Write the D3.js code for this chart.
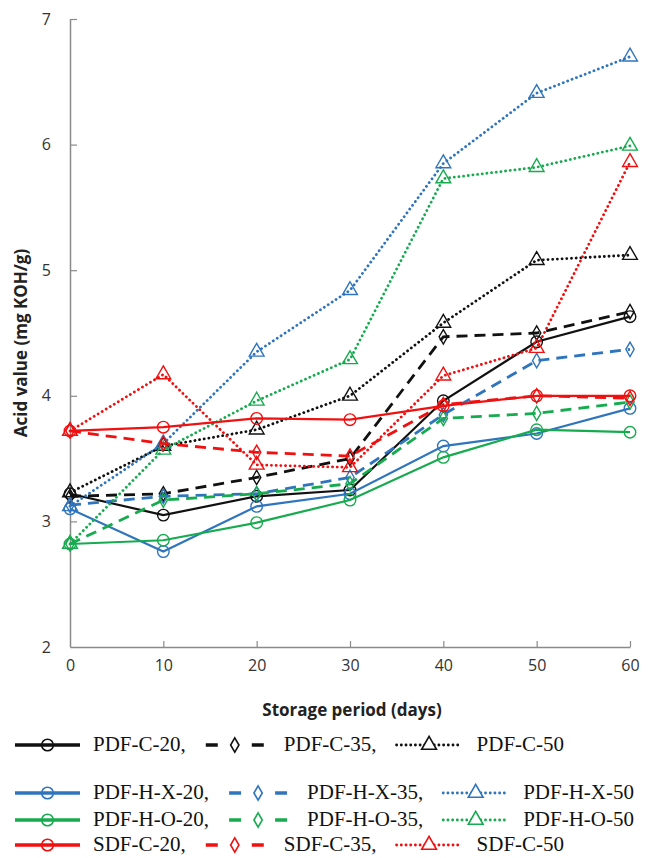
<!DOCTYPE html>
<html>
<head>
<meta charset="utf-8">
<script src="https://cdn.jsdelivr.net/npm/d3@7"></script>
<style>
  body { margin: 0; background: #fff; }
  svg { display: block; }
</style>
</head>
<body>
<script>
const width = 658;
const height = 858;

// storage days
const days = [0, 10, 20, 30, 40, 50, 60];
const yTicks = [2, 3, 4, 5, 6, 7];

// acid values
const pdfC20 = [3.22, 3.05, 3.20, 3.25, 3.96, 4.43, 4.63];
const pdfC35 = [3.20, 3.22, 3.35, 3.50, 4.47, 4.50, 4.67];
const pdfC50 = [3.23, 3.60, 3.73, 4.00, 4.58, 5.08, 5.12];
const pdfHX20 = [3.10, 2.76, 3.12, 3.22, 3.60, 3.70, 3.90];
const pdfHX35 = [3.13, 3.20, 3.22, 3.35, 3.85, 4.28, 4.37];
const pdfHX50 = [3.12, 3.62, 4.35, 4.84, 5.85, 6.41, 6.70];
const pdfHO20 = [2.82, 2.85, 2.99, 3.17, 3.51, 3.73, 3.71];
const pdfHO35 = [2.82, 3.17, 3.22, 3.30, 3.82, 3.86, 3.95];
const pdfHO50 = [2.82, 3.57, 3.96, 4.29, 5.73, 5.82, 5.99];
const sdfC20 = [3.72, 3.75, 3.82, 3.81, 3.92, 4.00, 4.00];
const sdfC35 = [3.72, 3.62, 3.55, 3.52, 3.93, 4.00, 3.98];
const sdfC50 = [3.72, 4.17, 3.45, 3.43, 4.16, 4.38, 5.86];

const colors = { C: "#111111", HX: "#2f75bd", HO: "#16ab4f", S: "#f01010" };

const series = [
    { name: "PDF-C-20", values: pdfC20, color: colors.C, type: "solid" },
    { name: "PDF-C-35", values: pdfC35, color: colors.C, type: "dash" },
    { name: "PDF-C-50", values: pdfC50, color: colors.C, type: "dot" },
    { name: "PDF-H-X-20", values: pdfHX20, color: colors.HX, type: "solid" },
    { name: "PDF-H-X-35", values: pdfHX35, color: colors.HX, type: "dash" },
    { name: "PDF-H-X-50", values: pdfHX50, color: colors.HX, type: "dot" },
    { name: "PDF-H-O-20", values: pdfHO20, color: colors.HO, type: "solid" },
    { name: "PDF-H-O-35", values: pdfHO35, color: colors.HO, type: "dash" },
    { name: "PDF-H-O-50", values: pdfHO50, color: colors.HO, type: "dot" },
    { name: "SDF-C-20", values: sdfC20, color: colors.S, type: "solid" },
    { name: "SDF-C-35", values: sdfC35, color: colors.S, type: "dash" },
    { name: "SDF-C-50", values: sdfC50, color: colors.S, type: "dot" }
];

const dashes = { solid: null, dash: "11,7", dot: "0.1,4.6" };
const widths = { solid: 2.2, dash: 2.8, dot: 2.8 };
const symbols = {
    solid: d3.symbol(d3.symbolCircle, 105),
    dash: d3.symbol(d3.symbolDiamond, 60),
    dot: d3.symbol(d3.symbolTriangle, 95)
};

const x = d3.scaleLinear().domain([0, 60]).range([70, 630]);
const y = d3.scaleLinear().domain([2, 7]).range([647, 19]);

const svg = d3.select("body")
    .append("svg")
    .attr("width", width)
    .attr("height", height);

// axes
const xAxis = svg.append("g")
    .attr("transform", `translate(0,${y(2)})`)
    .call(d3.axisBottom(x).tickValues(days).tickSizeInner(-6).tickSizeOuter(0).tickPadding(13));

const yAxis = svg.append("g")
    .attr("transform", `translate(${x(0)},0)`)
    .call(d3.axisLeft(y).tickValues(yTicks).tickFormat(d3.format("d")).tickSizeInner(-7).tickSizeOuter(0).tickPadding(19));

[xAxis, yAxis].forEach(function(g) {
    g.select(".domain").attr("stroke", "#8a8a8a").attr("stroke-width", 1.5);
    g.selectAll(".tick line").attr("stroke", "#8a8a8a").attr("stroke-width", 1.2);
    g.selectAll(".tick text")
        .attr("fill", "#333")
        .style("font-family", "'Open Sans', 'Noto Sans', sans-serif")
        .style("font-size", "16px");
});
yAxis.selectAll(".tick").filter(d => d === 2).select("line").remove();
xAxis.selectAll(".tick").filter(d => d === 0).select("line").remove();

// axis titles
svg.append("text")
    .attr("transform", `translate(27,${(y(2) + y(7)) / 2 + 10}) rotate(-90)`)
    .attr("text-anchor", "middle")
    .style("font-family", "'Open Sans', 'Noto Sans', sans-serif")
    .style("font-weight", "bold")
    .style("font-size", "17px")
    .attr("fill", "#222")
    .text("Acid value (mg KOH/g)");

svg.append("text")
    .attr("x", 352)
    .attr("y", 716)
    .attr("text-anchor", "middle")
    .style("font-family", "'Open Sans', 'Noto Sans', sans-serif")
    .style("font-weight", "bold")
    .style("font-size", "17px")
    .attr("fill", "#222")
    .text("Storage period (days)");

// lines and markers
const line = d3.line()
    .x((d, i) => x(days[i]))
    .y(d => y(d));

const plot = svg.append("g");

series.forEach(function(s) {
    plot.append("path")
        .datum(s.values)
        .attr("fill", "none")
        .attr("stroke", s.color)
        .attr("stroke-width", widths[s.type])
        .attr("stroke-dasharray", dashes[s.type])
        .attr("stroke-linecap", s.type === "dot" ? "round" : "butt")
        .attr("d", line);

    plot.append("g")
        .selectAll("path")
        .data(s.values)
        .enter()
        .append("path")
        .attr("transform", (d, i) => `translate(${x(days[i])},${y(d)})`)
        .attr("d", symbols[s.type])
        .attr("fill", "none")
        .attr("stroke", s.color)
        .attr("stroke-width", 1.4);
});

// legend, four rows of three entries, laid out in flow
const rowY = [745, 793, 820, 845];
const legend = svg.append("g");

for (let r = 0; r < 4; r++) {
    let cx = 15;
    for (let c = 0; c < 3; c++) {
        const s = series[r * 3 + c];
        const g = legend.append("g");
        const ly = rowY[r];
        const len = s.type === "dash" ? 58 : 65;
        if (s.type === "dash") {
            g.append("line").attr("x1", cx).attr("x2", cx + 12).attr("y1", ly).attr("y2", ly);
            g.append("line").attr("x1", cx + len - 12).attr("x2", cx + len).attr("y1", ly).attr("y2", ly);
            g.selectAll("line").attr("stroke", s.color).attr("stroke-width", 3.5);
        } else {
            g.append("line")
                .attr("x1", cx).attr("x2", cx + len)
                .attr("y1", ly).attr("y2", ly)
                .attr("stroke", s.color)
                .attr("stroke-width", s.type === "solid" ? 3.5 : 2.8)
                .attr("stroke-dasharray", s.type === "dot" ? "0.1,4.6" : null)
                .attr("stroke-linecap", s.type === "dot" ? "round" : "butt");
        }
        g.append("path")
            .attr("transform", `translate(${cx + len / 2},${ly})`)
            .attr("d", symbols[s.type])
            .attr("fill", s.type === "dot" ? "#fff" : "none")
            .attr("stroke", s.color)
            .attr("stroke-width", 1.6);
        cx += len + (c === 0 ? 13 : c === 1 ? 20 : 15);
        const t = g.append("text")
            .attr("x", cx)
            .attr("y", ly + 6)
            .style("font-family", "'Liberation Serif', 'Times New Roman', serif")
            .style("font-size", "21px")
            .attr("fill", "#111")
            .text(s.name + (c < 2 ? "," : ""));
        cx += t.node().getComputedTextLength() + 20;
    }
}
</script>
</body>
</html>
